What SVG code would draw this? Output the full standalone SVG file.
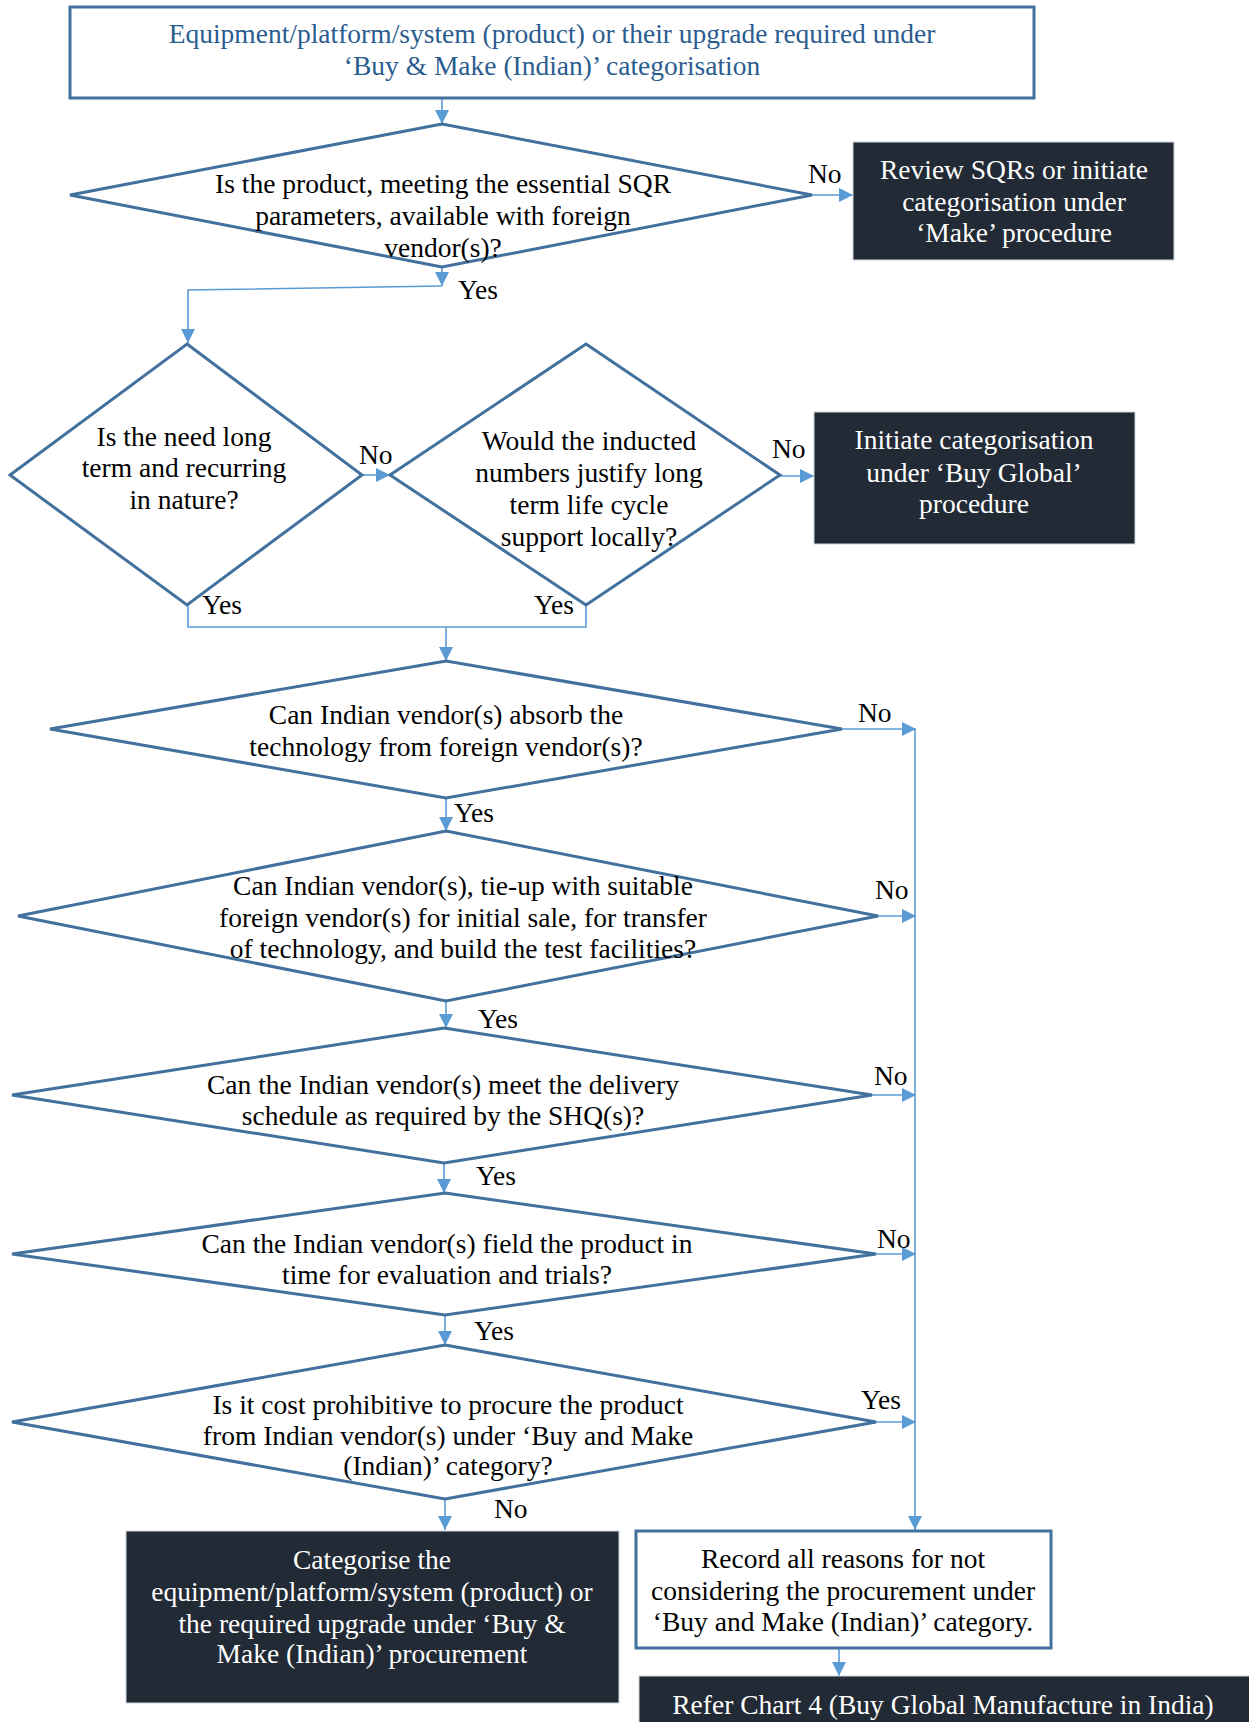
<svg xmlns="http://www.w3.org/2000/svg" width="1249" height="1722" viewBox="0 0 1249 1722">
<style>
text{font-family:"Liberation Serif","Times New Roman",serif;font-size:27.5px;fill:#000;text-anchor:middle}
.lbl{text-anchor:start}
.wt{fill:#fff}
.bt{fill:#2b5c8f}
.dia{fill:#fff;stroke:#41719c;stroke-width:3}
.dark{fill:#222a35;stroke:#d0d5dc;stroke-width:1}
.wbox{fill:#fff;stroke:#41719c;stroke-width:3}
.con{fill:none;stroke:#5b9bd5;stroke-width:1.6}
</style>
<defs>
<marker id="a" viewBox="0 0 10 10" refX="10" refY="5" markerWidth="14" markerHeight="14" markerUnits="userSpaceOnUse" orient="auto">
<path d="M0,0 L10,5 L0,10 z" fill="#5b9bd5"/>
</marker>
</defs>

<g id="connectors">
<path class="con" d="M442,99 V124" marker-end="url(#a)"/>
<path class="con" d="M812,195 H853" marker-end="url(#a)"/>
<path class="con" d="M442,267 V286" marker-end="url(#a)"/>
<path class="con" d="M442,286 L188,290 V343" marker-end="url(#a)"/>
<path class="con" d="M362,475 H390" marker-end="url(#a)"/>
<path class="con" d="M780,476 H814" marker-end="url(#a)"/>
<path class="con" d="M188,605 V627 H586 V605"/>
<path class="con" d="M446,627 V661" marker-end="url(#a)"/>
<path class="con" d="M842,729 H916" marker-end="url(#a)"/>
<path class="con" d="M915,729 V1530" marker-end="url(#a)"/>
<path class="con" d="M446,798 V831" marker-end="url(#a)"/>
<path class="con" d="M878,916 H916" marker-end="url(#a)"/>
<path class="con" d="M446,1001 V1028" marker-end="url(#a)"/>
<path class="con" d="M872,1095 H916" marker-end="url(#a)"/>
<path class="con" d="M444,1163 V1193" marker-end="url(#a)"/>
<path class="con" d="M876,1254 H916" marker-end="url(#a)"/>
<path class="con" d="M445,1315 V1345" marker-end="url(#a)"/>
<path class="con" d="M876,1422 H916" marker-end="url(#a)"/>
<path class="con" d="M445,1499 V1530" marker-end="url(#a)"/>
<path class="con" d="M839,1648 V1676" marker-end="url(#a)"/>
<text class="lbl" x="808" y="183">No</text>
<text class="lbl" x="458" y="299">Yes</text>
<text class="lbl" x="359" y="464">No</text>
<text class="lbl" x="772" y="458">No</text>
<text class="lbl" x="202" y="614">Yes</text>
<text class="lbl" x="534" y="614">Yes</text>
<text class="lbl" x="858" y="722">No</text>
<text class="lbl" x="454" y="822">Yes</text>
<text class="lbl" x="875" y="899">No</text>
<text class="lbl" x="478" y="1028">Yes</text>
<text class="lbl" x="874" y="1085">No</text>
<text class="lbl" x="476" y="1185">Yes</text>
<text class="lbl" x="877" y="1248">No</text>
<text class="lbl" x="474" y="1340">Yes</text>
<text class="lbl" x="861" y="1409">Yes</text>
<text class="lbl" x="494" y="1518">No</text>
</g>

<g id="start">
<rect class="wbox" x="70" y="7" width="964" height="91"/>
<text class="bt" x="552" y="43">Equipment/platform/system (product) or their upgrade required under</text>
<text class="bt" x="552" y="75">‘Buy &amp; Make (Indian)’ categorisation</text>
</g>

<g id="d1">
<polygon class="dia" points="442,124 812,195 442,267 70,195"/>
<text x="443" y="193">Is the product, meeting the essential SQR</text>
<text x="443" y="225">parameters, available with foreign</text>
<text x="443" y="257">vendor(s)?</text>
</g>

<g id="review">
<rect class="dark" x="853" y="142" width="321" height="118"/>
<text class="wt" x="1014" y="179">Review SQRs or initiate</text>
<text class="wt" x="1014" y="211">categorisation under</text>
<text class="wt" x="1014" y="242">‘Make’ procedure</text>
</g>

<g id="d2">
<polygon class="dia" points="187,344 362,475 187,605 10,475"/>
<text x="184" y="446">Is the need long</text>
<text x="184" y="477">term and recurring</text>
<text x="184" y="509">in nature?</text>
</g>

<g id="d3">
<polygon class="dia" points="586,344 780,475 586,605 390,475"/>
<text x="589" y="450">Would the inducted</text>
<text x="589" y="482">numbers justify long</text>
<text x="589" y="514">term life cycle</text>
<text x="589" y="546">support locally?</text>
</g>

<g id="buyglobal">
<rect class="dark" x="814" y="412" width="321" height="132"/>
<text class="wt" x="974" y="449">Initiate categorisation</text>
<text class="wt" x="974" y="482">under ‘Buy Global’</text>
<text class="wt" x="974" y="513">procedure</text>
</g>

<g id="d4">
<polygon class="dia" points="446,661 842,729 446,798 50,729"/>
<text x="446" y="724">Can Indian vendor(s) absorb the</text>
<text x="446" y="756">technology from foreign vendor(s)?</text>
</g>

<g id="d5">
<polygon class="dia" points="446,831 878,916 446,1001 18,916"/>
<text x="463" y="895">Can Indian vendor(s), tie-up with suitable</text>
<text x="463" y="927">foreign vendor(s) for initial sale, for transfer</text>
<text x="463" y="958">of technology, and build the test facilities?</text>
</g>

<g id="d6">
<polygon class="dia" points="444,1028 872,1095 444,1163 12,1095"/>
<text x="443" y="1094">Can the Indian vendor(s) meet the delivery</text>
<text x="443" y="1125">schedule as required by the SHQ(s)?</text>
</g>

<g id="d7">
<polygon class="dia" points="445,1193 876,1254 445,1315 12,1254"/>
<text x="447" y="1253">Can the Indian vendor(s) field the product in</text>
<text x="447" y="1284">time for evaluation and trials?</text>
</g>

<g id="d8">
<polygon class="dia" points="445,1345 876,1422 445,1499 12,1422"/>
<text x="448" y="1414">Is it cost prohibitive to procure the product</text>
<text x="448" y="1445">from Indian vendor(s) under ‘Buy and Make</text>
<text x="448" y="1475">(Indian)’ category?</text>
</g>

<g id="categorise">
<rect class="dark" x="126" y="1531" width="493" height="172"/>
<text class="wt" x="372" y="1569">Categorise the</text>
<text class="wt" x="372" y="1601">equipment/platform/system (product) or</text>
<text class="wt" x="372" y="1633">the required upgrade under ‘Buy &amp;</text>
<text class="wt" x="372" y="1663">Make (Indian)’ procurement</text>
</g>

<g id="record">
<rect class="wbox" x="636" y="1531" width="415" height="117"/>
<text x="843" y="1568">Record all reasons for not</text>
<text x="843" y="1600">considering the procurement under</text>
<text x="843" y="1631">‘Buy and Make (Indian)’ category.</text>
</g>

<g id="refer">
<rect class="dark" x="639" y="1676" width="620" height="60"/>
<text class="wt" x="943" y="1714">Refer Chart 4 (Buy Global Manufacture in India)</text>
</g>
</svg>
